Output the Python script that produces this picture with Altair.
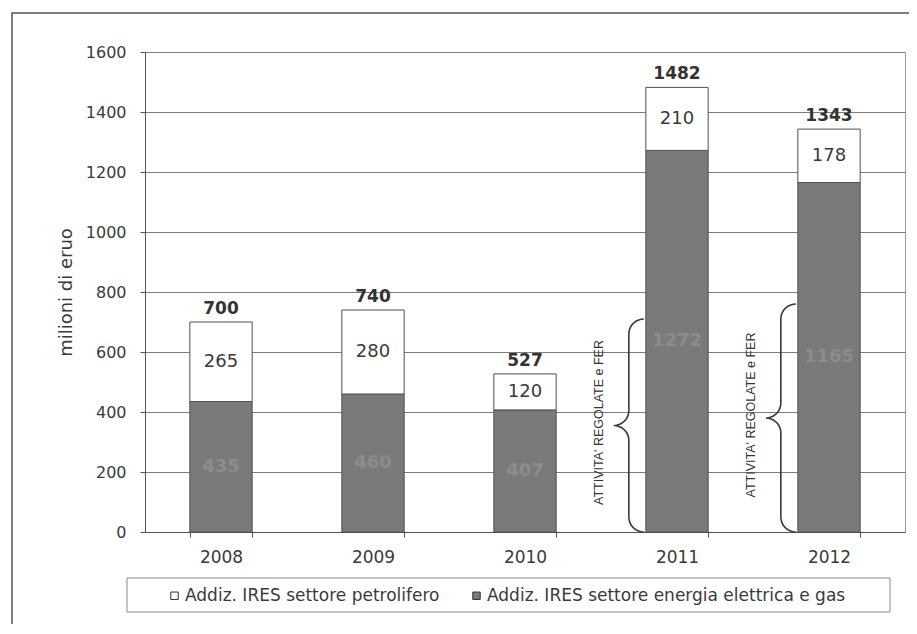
import altair as alt
import pandas as pd
import numpy as np

# ---- data ----
years = ["2008", "2009", "2010", "2011", "2012"]
elettrica = [435, 460, 407, 1272, 1165]
petrolifero = [265, 280, 120, 210, 178]
totals = [700, 740, 527, 1482, 1343]
series_names = ["Addiz. IRES settore petrolifero",
                "Addiz. IRES settore energia elettrica e gas"]
brace_years = ["2011", "2012"]
brace_tops = [710, 760]
brace_label = "ATTIVITA' REGOLATE e FER"
y_title = "milioni di eruo"

W, H = 760, 480
YMAX = 1600
PAD_IN = 0.59
FONT = "DejaVu Sans"
NARROW = "Liberation Sans"

# ---- tables ----
rows = []
for yr, e, p in zip(years, elettrica, petrolifero):
    rows.append({"year": yr, "series": series_names[1], "lo": 0, "hi": e, "mid": e / 2, "value": e})
    rows.append({"year": yr, "series": series_names[0], "lo": e, "hi": e + p, "mid": e + p / 2, "value": p})
df = pd.DataFrame(rows)
tot_df = pd.DataFrame({"year": years, "total": totals})

# brace geometry (domain units: one category = 1 on an independent x scale)
px_per_cat = W / len(years)
px_per_val = H / YMAX
half_band = (1 - PAD_IN) / 2
brace_rows, brace_text = [], []
for yr, top in zip(brace_years, brace_tops):
    i = years.index(yr)
    left = i + 0.5 - half_band
    hx = left - 2 / px_per_cat
    vx = left - 17 / px_per_cat
    rx = 15 / px_per_cat
    ry = 15 / px_per_val
    mid = top / 2
    pts = []
    t = np.linspace(np.pi / 2, np.pi, 10)
    pts += list(zip(hx + rx * np.cos(t), top - ry + ry * np.sin(t)))
    t = np.linspace(0, -np.pi / 2, 10)
    pts += list(zip(vx - rx + rx * np.cos(t), mid + ry + ry * np.sin(t)))
    t = np.linspace(np.pi / 2, 0, 10)
    pts += list(zip(vx - rx + rx * np.cos(t), mid - ry + ry * np.sin(t)))
    t = np.linspace(np.pi, 1.5 * np.pi, 10)
    pts += list(zip(hx + rx * np.cos(t), 0 + ry + ry * np.sin(t)))
    for k, (x, y) in enumerate(pts):
        brace_rows.append({"b": yr, "k": k, "bx": x, "by": y})
    brace_text.append({"b": yr, "bx": left - 47 / px_per_cat, "by": mid + 10, "t": brace_label})
brace_df = pd.DataFrame(brace_rows)
brace_txt_df = pd.DataFrame(brace_text)

yscale = alt.Scale(domain=[0, YMAX])
yaxis = alt.Axis(values=list(range(0, YMAX + 1, 200)), format="d", title=y_title, grid=True,
                 labelFont=FONT, labelFontSize=16, labelColor="#3a3a3a", labelPadding=14,
                 titleFont=FONT, titleFontSize=18, titleFontWeight="normal",
                 titleColor="#3a3a3a", titlePadding=10)


def yenc(field):
    return alt.Y(field, scale=yscale, axis=yaxis)


xenc = alt.X("year:N", sort=years,
             scale=alt.Scale(paddingInner=PAD_IN, paddingOuter=PAD_IN / 2),
             axis=alt.Axis(title=None, labelAngle=0, tickBand="extent", labelFont=FONT,
                           labelFontSize=17, labelColor="#3a3a3a", labelPadding=12))

bars = alt.Chart(df).mark_bar(stroke="#505050", strokeWidth=1).encode(
    x=xenc,
    y=yenc("lo:Q"),
    y2="hi:Q",
    color=alt.Color("series:N",
                    scale=alt.Scale(domain=series_names, range=["#ffffff", "#7a7a7a"]),
                    legend=alt.Legend(title=None, orient="none", legendX=21, legendY=535,
                                      direction="horizontal", symbolType="square",
                                      symbolSize=55, symbolStrokeColor="#333",
                                      symbolStrokeWidth=1, labelFontSize=17, labelFont=FONT,
                                      labelColor="#3a3a3a", columnPadding=28, labelOffset=2,
                                      labelLimit=600, padding=0)),
)

top_lbl = alt.Chart(df[df.series == series_names[0]]).mark_text(
    font=FONT, fontSize=18, color="#3a3a3a").encode(x=xenc, y=yenc("mid:Q"), text="value:Q")
bot_lbl = alt.Chart(df[df.series == series_names[1]]).mark_text(
    font=FONT, fontSize=18, fontWeight="bold", color="#8c8c8c").encode(
    x=xenc, y=yenc("mid:Q"), text="value:Q")
tot_lbl = alt.Chart(tot_df).mark_text(
    font=FONT, fontSize=17, fontWeight="bold", color="#333", dy=-13).encode(
    x=xenc, y=yenc("total:Q"), text="total:Q")

one = pd.DataFrame({"k": [0]})
legend_box = alt.Chart(one).mark_rect(fill=None, stroke="#888", strokeWidth=1).encode(
    x=alt.value(-18), x2=alt.value(745), y=alt.value(526), y2=alt.value(560))
frame = alt.Chart(one).mark_rect(fill=None, stroke="#555", strokeWidth=1.5).encode(
    x=alt.value(-133), x2=alt.value(800), y=alt.value(-39), y2=alt.value(620))

inner = alt.layer(frame, legend_box, bars, top_lbl, bot_lbl, tot_lbl)

bx = alt.X("bx:Q", scale=alt.Scale(domain=[0, len(years)]), axis=None)
braces = alt.Chart(brace_df).mark_line(color="#3a3a3a", strokeWidth=1.6).encode(
    x=bx, y=yenc("by:Q"), detail="b:N", order="k:Q")
brace_lbl = alt.Chart(brace_txt_df).mark_text(
    font=NARROW, fontSize=12.5, color="#333", angle=270).encode(
    x=bx, y=yenc("by:Q"), text="t:N")

chart = alt.layer(inner, braces, brace_lbl).resolve_scale(x="independent").properties(
    width=W, height=H,
    autosize=alt.AutoSizeParams(type="none"),
    padding={"left": 137, "top": 44, "right": 4, "bottom": 92},
    background="white",
).configure_view(stroke="#9a9a9a", strokeWidth=1).configure_axis(
    domainColor="#555", tickColor="#555", tickSize=5, gridColor="#7c7c7c",
    gridWidth=1,
).configure_axisX(grid=False)

chart.save("out.html", embed_options={"renderer": "svg", "actions": False})
